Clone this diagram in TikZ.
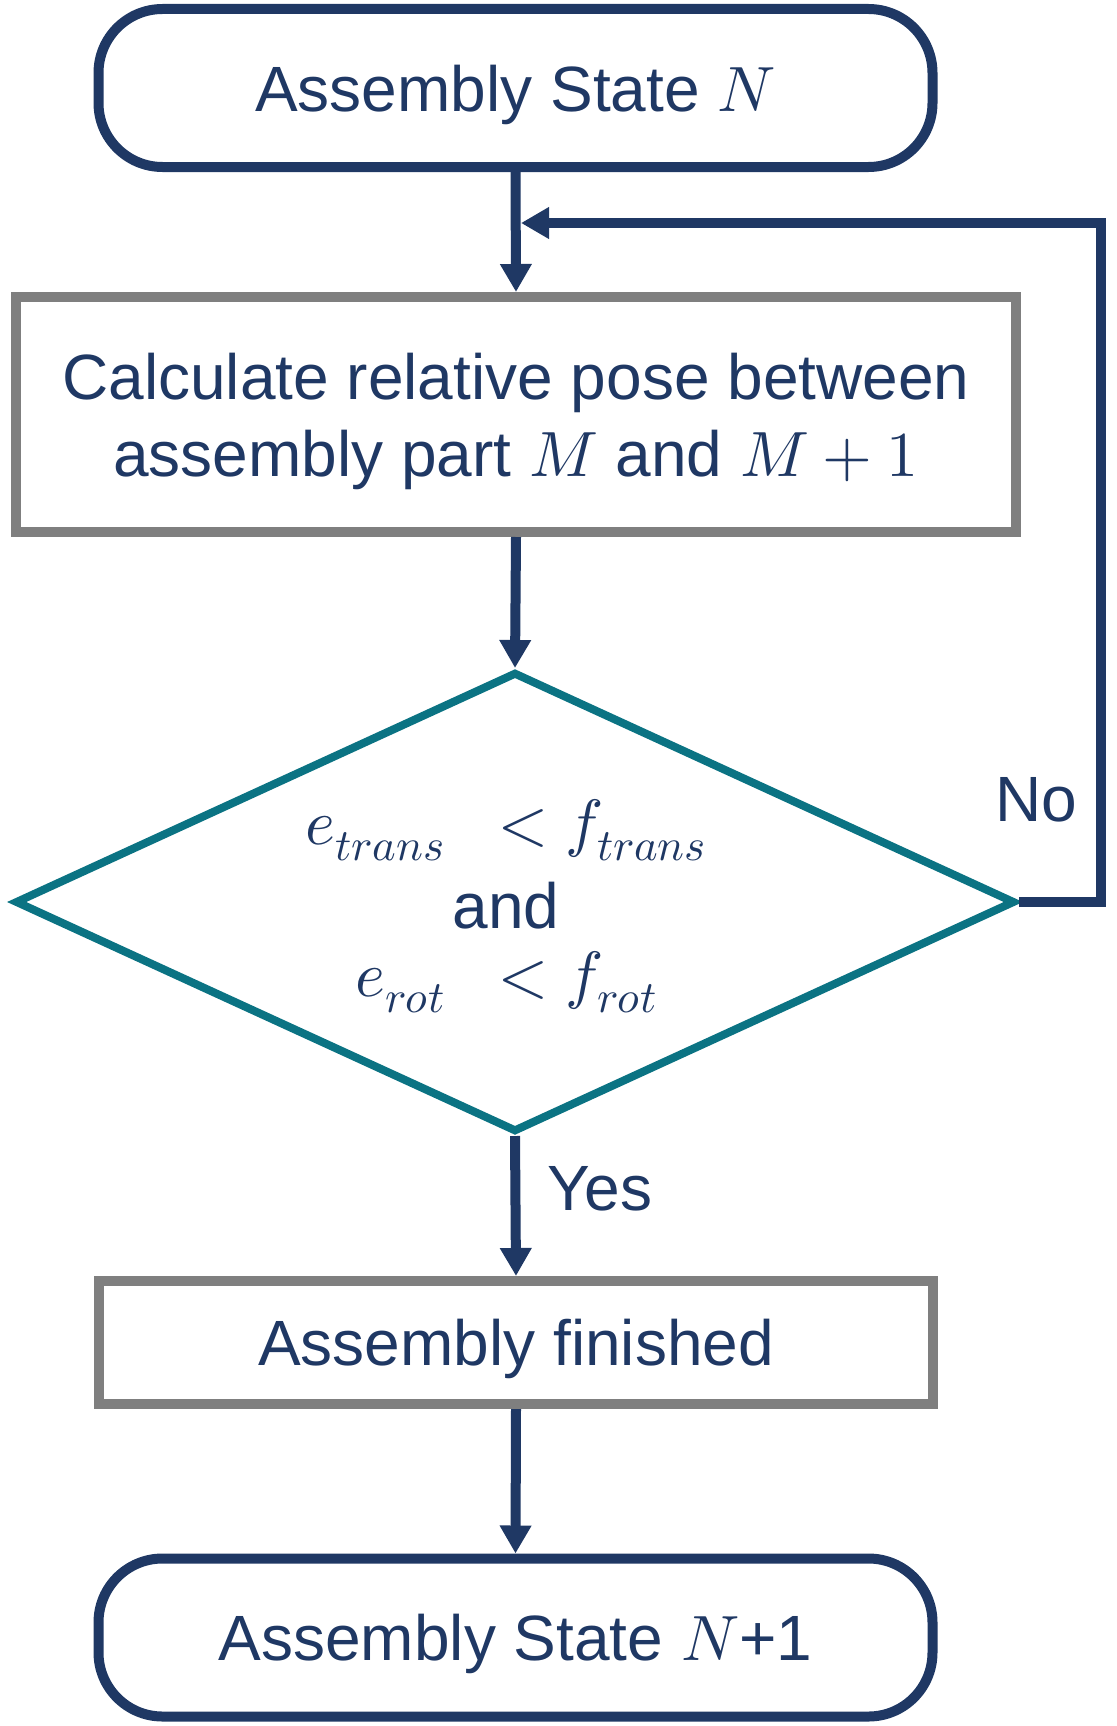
\documentclass[tikz,border=0pt]{standalone}
\usepackage{fontspec}
\usepackage{unicode-math}
\setmainfont{Liberation Sans}
\setmathfont{Latin Modern Math}
\usetikzlibrary{shapes.geometric,arrows.meta}
\definecolor{navy}{HTML}{1F3864}
\definecolor{boxgray}{HTML}{7F7F7F}
\definecolor{tealline}{HTML}{0B7383}
\newcommand\flowfont{\fontsize{64}{77}\selectfont}
\begin{document}
\begin{tikzpicture}[x=1pt,y=-1pt,
  terminal/.style={draw=navy, line width=10pt, rounded corners=64pt,
    minimum width=834pt, minimum height=158pt, text=navy, font=\flowfont, inner sep=0pt,
    text depth=0pt},
  process/.style={draw=boxgray, line width=10pt, text=navy, font=\flowfont,
    align=center, inner sep=0pt, text depth=0pt},
  decision/.style={draw=tealline, line width=8pt, diamond, inner sep=0pt,
    minimum width=1000pt, minimum height=460pt},
  lbl/.style={text=navy, font=\flowfont, inner sep=0pt, align=center},
  flow/.style={draw=navy, line width=10pt, -{Triangle[length=28pt,width=30pt]}}
]
\useasboundingbox (0,0) rectangle (1116,1726);

\node[terminal] (start) at (515.5,88) {Assembly State $N$};
\node[process, minimum width=1000pt, minimum height=235pt] (calc) at (516,414.5)
  {Calculate relative pose between\\assembly part $M$ and $M+1$};
\node[decision] (dec) at (515,902) {};
\node[lbl] (cond) at (506,906) {$e_{trans}\ \;< f_{trans}$\\[7pt]and\\[-9pt]$e_{rot}\ \;< f_{rot}$};
\node[process, minimum width=834pt, minimum height=123pt] (fin) at (516,1342.5) {Assembly finished};
\node[terminal] (end) at (515.5,1637.5) {Assembly State $N$+1};

\node[lbl] (no) at (1036,800) {No};
\node[lbl] (yes) at (600,1189) {Yes};

\coordinate (fbR) at (1101,902);
\coordinate (fbT) at (1101,223);
\coordinate (fbJ) at (521,223);

\draw[flow] (start.south) -- (calc.north);
\draw[flow] (calc.south) -- (dec.north);
\draw[flow] (dec.south) -- (fin.north);
\draw[flow] (fin.south) -- (end.north);
\draw[flow] (dec.east) -- (fbR) -- (fbT) -- (fbJ);
\end{tikzpicture}
\end{document}
